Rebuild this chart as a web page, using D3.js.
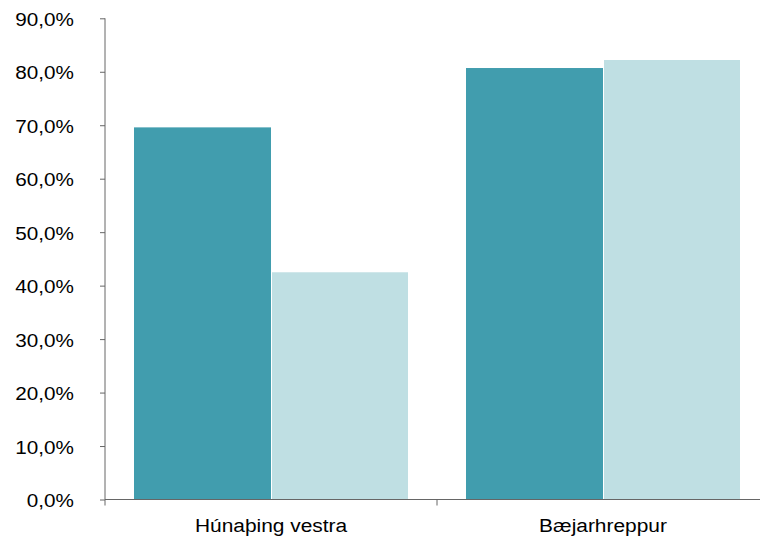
<!DOCTYPE html>
<html><head><meta charset="utf-8">
<script src="https://cdn.jsdelivr.net/npm/d3@7"></script>
<style>body{margin:0;background:#fff}svg{display:block}text{font-family:"Liberation Sans",Arial,sans-serif}</style>
</head><body>
<svg id="c" width="760" height="539"></svg>
<script>
const categories = ["Húnaþing vestra", "Bæjarhreppur"];
const seriesNames = ["A", "B"];
const seriesA = [69.6, 80.7];
const seriesB = [42.5, 82.2];
const yTicks = [0,10,20,30,40,50,60,70,80,90];
const colors = ["#419DAE", "#BFDFE3"];

const svg = d3.select("#c");
const mLeft = 105, mRight = 769, mTop = 18.3, mBottom = 499.5;
const x = d3.scaleBand().domain(categories).range([mLeft, mRight]).paddingInner(0).paddingOuter(0);
const y = d3.scaleLinear().domain([0, 90]).range([mBottom, mTop]);
const ginner = d3.scaleBand().domain(seriesNames).range([29, x.bandwidth()-29]);

const data = categories.map((c,i)=>({c, vals:[seriesA[i], seriesB[i]]}));
const g = svg.append("g");
data.forEach(d=>{
  d.vals.forEach((v,j)=>{
    const x0 = x(d.c) + ginner(seriesNames[j]);
    g.append("rect")
      .attr("x", x0 + (j===1?1:0))
      .attr("width", ginner.bandwidth() - (j===1?1:0))
      .attr("y", y(v))
      .attr("height", y(0)-y(v))
      .attr("fill", colors[j]);
  });
});

// y axis
const ya = svg.append("g").attr("transform",`translate(${mLeft},0)`)
  .call(d3.axisLeft(y).tickValues(yTicks).tickSize(5)
    .tickFormat(v=>d3.format(".1f")(v).replace(".",",")+"%"));
ya.select(".domain").attr("d",`M0,${mTop}V${mBottom}`).attr("stroke","#666");
ya.selectAll(".tick line").attr("stroke","#666");
ya.selectAll(".tick text").attr("font-size","19px").attr("fill","#000")
  .attr("font-family","Liberation Sans, Arial, sans-serif")
  .attr("x",0).attr("dy",null).attr("y",0)
  .attr("transform","translate(-31,7) scale(1.09,1)");

// x axis
const xa = svg.append("g").attr("transform",`translate(0,${mBottom})`);
xa.append("line").attr("x1",mLeft).attr("x2",mRight).attr("stroke","#666");
[mLeft, ...categories.map(c=>x(c)+x.bandwidth())].forEach(t=>{
  xa.append("line").attr("x1",t).attr("x2",t).attr("y1",0).attr("y2",6).attr("stroke","#666");
});
categories.forEach(c=>{
  xa.append("text").attr("transform",`translate(${x(c)+x.bandwidth()/2},32) scale(1.1,1)`)
    .attr("text-anchor","middle").attr("font-size","19px").attr("fill","#000").text(c);
});
</script>
</body></html>
